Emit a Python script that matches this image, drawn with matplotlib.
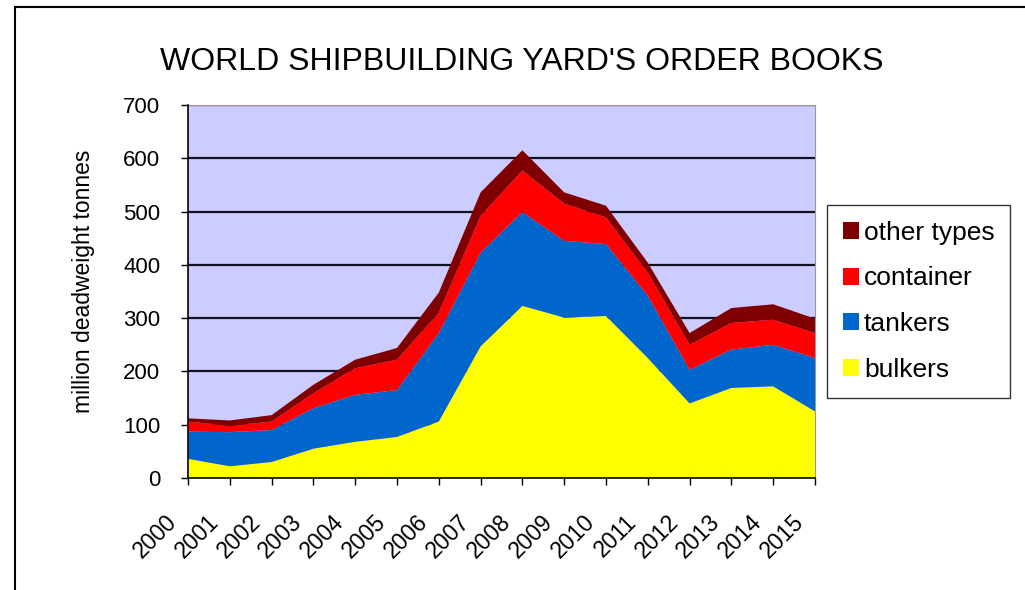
import matplotlib
matplotlib.use("Agg")
import matplotlib.pyplot as plt
import matplotlib.transforms as mtransforms
from matplotlib.lines import Line2D
from matplotlib.patches import Patch

plt.rcParams['font.family'] = ['Liberation Sans', 'DejaVu Sans']

years = [str(y) for y in range(2000, 2016)]
bulkers = [36, 22, 30, 55, 68, 77, 106, 247, 323, 301, 304, 225, 140, 169, 172, 125]
tankers = [51, 64, 60, 76, 88, 88, 166, 176, 176, 144, 135, 117, 63, 72, 78, 100]
container = [19, 12, 16, 28, 50, 57, 38, 69, 78, 70, 50, 43, 47, 50, 47, 47]
other_types = [6, 10, 12, 16, 16, 22, 38, 44, 38, 21, 22, 19, 22, 28, 29, 27]

series_names = ["bulkers", "tankers", "container", "other types"]
colors = ["#FFFF00", "#0066CC", "#FF0000", "#800000"]

fig = plt.figure(figsize=(10.25, 5.9), dpi=100)
ax = fig.add_axes([188/1025, 1 - 478/590, (815-188)/1025, (478-105)/590])

x = list(range(len(years)))
ax.stackplot(x, bulkers, tankers, container, other_types, colors=colors,
             labels=series_names, linewidth=0, zorder=2)

ax.set_facecolor("#CCCCFF")
ax.set_xlim(0, len(years) - 1)
ax.set_ylim(0, 700)
ax.set_yticks(range(0, 701, 100))
ax.yaxis.grid(True, color="#111122", linewidth=1.6, zorder=1)
ax.set_axisbelow(True)
ax.set_xticks(x)
ax.tick_params(axis="y", labelsize=16, length=5, width=1, direction="out", pad=15)
ax.tick_params(axis="x", length=5, width=1, direction="out", pad=6)
ax.set_xticklabels(years, rotation=45, ha="right", rotation_mode="anchor", fontsize=16.5)
# nudge the rotated year labels down-left like the original
shift = mtransforms.ScaledTranslation(-23/100, -17/100, fig.dpi_scale_trans)
for lab in ax.get_xticklabels():
    lab.set_transform(lab.get_transform() + shift)

for s in ["top", "right"]:
    ax.spines[s].set_color("#999999")
for s in ["left", "bottom"]:
    ax.spines[s].set_color("black")
    ax.spines[s].set_linewidth(1.2)
    ax.spines[s].set_zorder(5)

ax.set_ylabel("million deadweight tonnes", fontsize=16.5)
ax.yaxis.set_label_coords(-0.148, 0.527)

fig.text(522/1025, 1 - 62/590, "WORLD SHIPBUILDING YARD'S ORDER BOOKS",
         ha="center", va="center", fontsize=23)

handles = [Patch(facecolor=c, edgecolor="none") for c in colors[::-1]]
leg = fig.legend(handles, series_names[::-1], loc="upper left",
                 bbox_to_anchor=(827/1025, 1 - 205/590), fontsize=19,
                 frameon=True, fancybox=False, edgecolor="black",
                 handlelength=0.6, handleheight=0.6, handletextpad=0.2,
                 labelspacing=0.82, borderpad=0.6, borderaxespad=0)
leg.get_frame().set_linewidth(1.0)

# outer frame (top and left edges of the cropped chart border)
fig.add_artist(Line2D([15/1025, 1.0], [1 - 7/590, 1 - 7/590], color="black", linewidth=1.5))
fig.add_artist(Line2D([15/1025, 15/1025], [0, 1 - 7/590], color="black", linewidth=1.5))

fig.savefig("out.png", dpi=100)
